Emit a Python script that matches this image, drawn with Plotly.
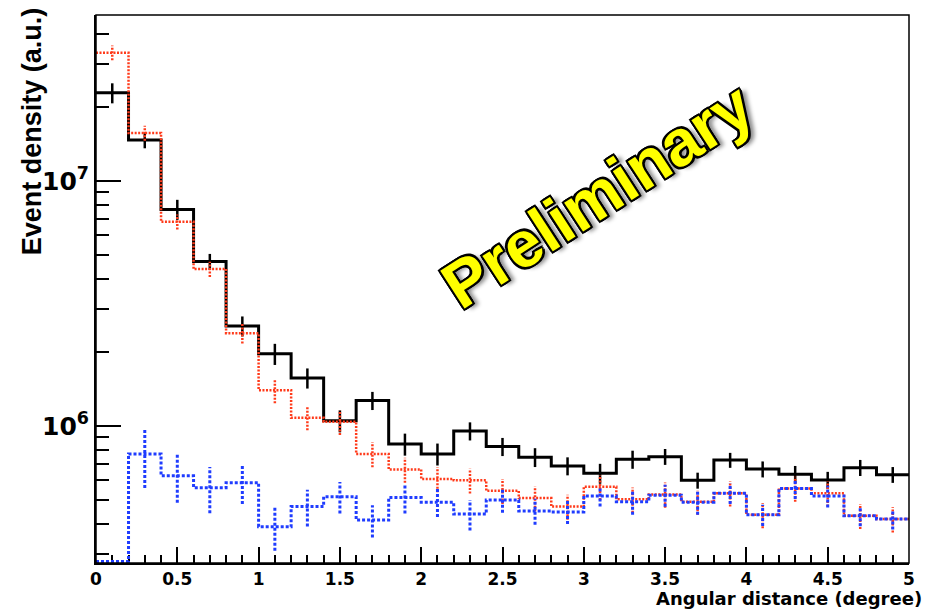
import plotly.graph_objects as go

# Histogram binning in angular distance (degree)
bin_edges = [0.0, 0.2, 0.4, 0.6, 0.8, 1.0, 1.2, 1.4, 1.6, 1.8, 2.0, 2.2, 2.4,
             2.6, 2.8, 3.0, 3.2, 3.4, 3.6, 3.8, 4.0, 4.2, 4.4, 4.6, 4.8, 5.0]

# Measured event density (black, solid)
data_density = [2.29e7, 1.47e7, 7.66e6, 4.69e6, 2.56e6, 1.97e6, 1.57e6, 1.05e6, 1.27e6,
                8.44e5, 7.69e5, 9.54e5, 8.24e5, 7.46e5, 6.87e5, 6.41e5, 7.31e5, 7.50e5,
                6.00e5, 7.26e5, 6.67e5, 6.36e5, 6.02e5, 6.76e5, 6.33e5]
data_error = [2.15e6, 1.10e6, 7.2e5, 3.5e5, 2.4e5, 1.95e5, 1.48e5, 1.08e5, 1.08e5,
              8.7e4, 7.9e4, 8.1e4, 7.0e4, 6.6e4, 5.8e4, 6.0e4, 6.2e4, 5.6e4,
              4.5e4, 5.1e4, 5.0e4, 5.1e4, 4.8e4, 5.1e4, 4.7e4]

# Expectation (red, dotted)
model_density = [3.34e7, 1.57e7, 6.82e6, 4.37e6, 2.39e6, 1.40e6, 1.08e6, 1.04e6, 7.69e5,
                 6.65e5, 6.08e5, 6.00e5, 5.44e5, 5.08e5, 4.69e5, 5.65e5, 5.02e5, 5.26e5,
                 4.91e5, 5.31e5, 4.34e5, 5.56e5, 5.31e5, 4.30e5, 4.17e5]
model_error = [2.3e6, 1.1e6, 4.8e5, 3.1e5, 2.2e5, 1.6e5, 1.2e5, 1.2e5, 9.0e4,
               7.8e4, 7.1e4, 7.0e4, 6.4e4, 5.9e4, 5.5e4, 6.6e4, 5.9e4, 6.2e4,
               5.7e4, 6.2e4, 5.1e4, 6.5e4, 6.2e4, 5.0e4, 4.9e4]

# Background estimate (blue, dashed); first bin sits at the axis floor
bkg_density = [2.8e5, 7.69e5, 6.27e5, 5.60e5, 5.87e5, 3.88e5, 4.69e5, 5.15e5, 4.13e5,
               5.11e5, 4.89e5, 4.37e5, 4.99e5, 4.50e5, 4.46e5, 5.18e5, 4.91e5, 5.22e5,
               4.89e5, 5.31e5, 4.34e5, 5.56e5, 5.18e5, 4.30e5, 4.17e5]
bkg_error = [0.0, 2.1e5, 1.41e5, 1.2e5, 1.06e5, 7.8e4, 8.0e4, 7.6e4, 6.2e4,
             7.2e4, 6.4e4, 6.2e4, 5.6e4, 5.5e4, 4.8e4, 4.9e4, 5.7e4, 5.4e4,
             5.5e4, 5.0e4, 4.3e4, 5.2e4, 5.3e4, 4.0e4, 3.9e4]

x_tick_vals = [0, 0.5, 1, 1.5, 2, 2.5, 3, 3.5, 4, 4.5, 5]
x_tick_text = ["0", "0.5", "1", "1.5", "2", "2.5", "3", "3.5", "4", "4.5", "5"]
y_tick_vals = [1e6, 1e7]
y_tick_text = ["10<sup>6</sup>", "10<sup>7</sup>"]
y_minor_vals = [3e5, 4e5, 5e5, 6e5, 7e5, 8e5, 9e5,
                2e6, 3e6, 4e6, 5e6, 6e6, 7e6, 8e6, 9e6,
                2e7, 3e7, 4e7]
y_log_range = [5.4409, 7.6776]


def step_xy(values):
    """Outline of a histogram: one horizontal segment per bin."""
    return bin_edges, list(values) + [values[-1]]


def error_xy(values, errors):
    """Vertical error segments at each bin centre."""
    xs, ys = [], []
    for i, (v, e) in enumerate(zip(values, errors)):
        if e <= 0:
            continue
        c = 0.5 * (bin_edges[i] + bin_edges[i + 1])
        xs += [c, c, None]
        ys += [v - e, v + e, None]
    return xs, ys


fig = go.Figure()

series = [
    (data_density, data_error, dict(color="#000000", width=3), dict(color="#000000", width=2.5)),
    (model_density, model_error, dict(color="#ff3a1a", width=2.5, dash="2px,1.5px"),
     dict(color="#ff3a1a", width=2.5, dash="2px,1.5px")),
    (bkg_density, bkg_error, dict(color="#1f3cff", width=3, dash="3px,2px"),
     dict(color="#1f3cff", width=3, dash="3px,2px")),
]

for values, errors, step_line, err_line in series:
    sx, sy = step_xy(values)
    fig.add_trace(go.Scatter(x=sx, y=sy, mode="lines", line=dict(shape="hv", **step_line),
                             hoverinfo="skip"))
    ex, ey = error_xy(values, errors)
    fig.add_trace(go.Scatter(x=ex, y=ey, mode="lines", line=err_line, hoverinfo="skip"))

tick_font = dict(family="DejaVu Sans", size=17, color="black", weight="bold")

fig.update_layout(
    width=927, height=610,
    margin=dict(l=96, r=15, t=15, b=47),
    paper_bgcolor="white", plot_bgcolor="white",
    showlegend=False,
    xaxis=dict(
        range=[0, 5], tickmode="array", tickvals=x_tick_vals, ticktext=x_tick_text,
        ticks="inside", ticklen=16, tickwidth=2, tickcolor="black",
        showline=True, linewidth=2, linecolor="black",
        showgrid=False, zeroline=False, tickfont=tick_font,
        minor=dict(ticks="inside", ticklen=8, tickwidth=2, tickcolor="black",
                   dtick=0.1, tick0=0, showgrid=False),
        layer="below traces",
    ),
    yaxis=dict(
        type="log", range=y_log_range, tickmode="array",
        tickvals=y_tick_vals, ticktext=y_tick_text,
        ticks="inside", ticklen=25, tickwidth=2, tickcolor="black",
        showline=True, linewidth=2, linecolor="black",
        showgrid=False, zeroline=False,
        tickfont=dict(family="DejaVu Sans", size=25, color="black", weight="bold"),
        minor=dict(ticks="inside", ticklen=13, tickwidth=2, tickcolor="black",
                   tickmode="array", tickvals=y_minor_vals, showgrid=False),
        layer="below traces",
    ),
    shapes=[dict(type="rect", xref="paper", yref="paper", x0=0, x1=1, y0=0, y1=1,
                 line=dict(color="black", width=1.5), layer="above")],
)

fig.add_annotation(
    text="Event density (a.u.)", textangle=-90,
    xref="paper", yref="paper", x=(32 - 96) / 816, y=(563 - 131) / 548,
    xanchor="center", yanchor="middle", showarrow=False,
    font=dict(family="Liberation Sans", size=27, color="black", weight="bold"),
)

fig.add_annotation(
    text="Angular distance (degree)",
    xref="paper", yref="paper", x=(926 - 96) / 816, y=(563 - 610) / 548,
    xanchor="right", yanchor="bottom", showarrow=False, borderpad=0,
    font=dict(family="DejaVu Sans", size=18, color="black", weight="bold"),
)

fig.add_annotation(
    text="Preliminary", textangle=-33,
    xref="paper", yref="paper", x=(599 - 96) / 816, y=(563 - 195) / 548,
    xanchor="center", yanchor="middle", showarrow=False,
    font=dict(family="Liberation Sans", size=65, color="#ffff00", weight="bold",
              shadow=("-2px -2px 0 #000, 2px -2px 0 #000, -2px 2px 0 #000, 2px 2px 0 #000, "
                      "0 -2px 0 #000, 0 2px 0 #000, -2px 0 0 #000, 2px 0 0 #000, "
                      "5px 4px 4px rgba(0,0,0,0.45)")),
)

fig.write_html("out.html")
